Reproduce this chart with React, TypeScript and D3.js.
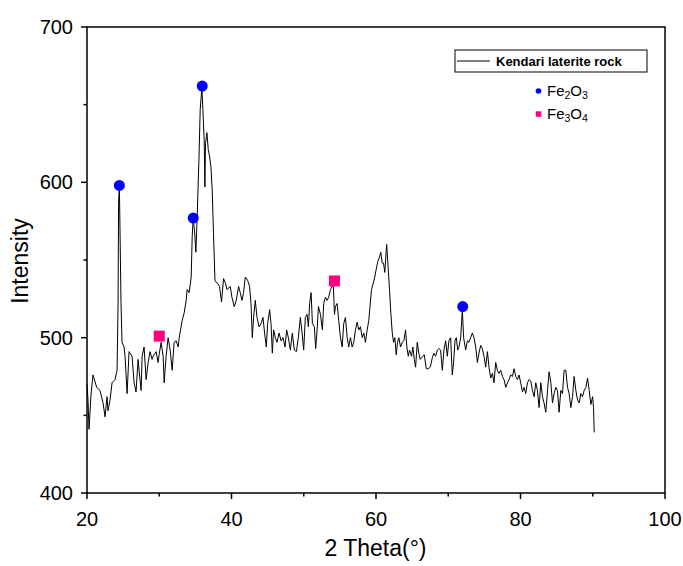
import React from 'react';
import { scaleLinear, line, curveLinear } from 'd3';

//2 theta positions (degrees)
const twoTheta = [
  20.0, 20.14, 20.28, 20.55, 20.83, 21.34, 21.8, 22.22, 22.5, 22.77, 22.91, 23.19, 23.47, 23.88, 24.16, 24.3,
  24.37, 24.48, 24.71, 24.85, 25.13, 25.27, 25.55, 25.82, 26.24, 26.52, 26.79, 27.07, 27.21, 27.49, 27.63, 27.9,
  28.18, 28.46, 28.73, 29.01, 29.15, 29.57, 29.84, 29.98, 30.26, 30.54, 30.68, 30.95, 31.23, 31.51, 31.79, 32.06,
  32.34, 32.62, 32.76, 33.17, 33.45, 33.73, 33.86, 34.14, 34.42, 34.56, 34.7, 34.88, 35.07, 35.25, 35.49, 35.67,
  35.9, 36.04, 36.22, 36.32, 36.4, 36.6, 36.78, 36.96, 37.15, 37.33, 37.51, 37.71, 37.79, 38.07, 38.34, 38.62,
  38.9, 39.17, 39.37, 39.83, 40.06, 40.38, 40.66, 40.98, 41.21, 41.45, 41.67, 41.91, 42.22, 42.5, 42.7, 42.88,
  43.06, 43.29, 43.53, 43.81, 44.08, 44.36, 44.58, 44.82, 45.0, 45.28, 45.47, 45.65, 45.83, 46.07, 46.3, 46.58,
  46.86, 47.13, 47.41, 47.63, 47.87, 48.15, 48.42, 48.7, 48.98, 49.25, 49.53, 49.77, 49.99, 50.22, 50.46, 50.64,
  50.82, 51.02, 51.2, 51.47, 51.65, 51.85, 52.03, 52.31, 52.58, 52.76, 53.0, 53.23, 53.46, 53.69, 53.93, 54.1,
  54.25, 54.39, 54.62, 54.84, 55.08, 55.32, 55.53, 55.77, 56.01, 56.23, 56.46, 56.7, 56.92, 57.16, 57.39, 57.62,
  57.85, 58.09, 58.31, 58.54, 58.78, 59.0, 59.13, 59.38, 59.61, 59.83, 60.03, 60.25, 60.49, 60.67, 60.86, 61.04,
  61.22, 61.41, 61.48, 61.64, 61.87, 62.05, 62.25, 62.43, 62.61, 62.8, 62.98, 63.16, 63.4, 63.63, 63.86, 64.09,
  64.27, 64.47, 64.64, 64.92, 65.1, 65.3, 65.48, 65.71, 65.93, 66.12, 66.49, 66.68, 66.96, 67.24, 67.51, 67.79,
  68.01, 68.25, 68.49, 68.71, 68.94, 69.18, 69.4, 69.64, 69.87, 70.09, 70.33, 70.56, 70.74, 70.93, 71.12, 71.3,
  71.48, 71.72, 71.95, 72.13, 72.41, 72.65, 72.87, 73.1, 73.34, 73.56, 73.8, 74.03, 74.25, 74.49, 74.72, 74.95,
  75.18, 75.42, 75.64, 75.88, 76.11, 76.33, 76.57, 76.8, 77.03, 77.26, 77.5, 77.72, 77.96, 78.19, 78.41, 78.65,
  78.88, 79.11, 79.34, 79.58, 79.8, 80.03, 80.27, 80.49, 80.73, 80.96, 81.19, 81.42, 81.66, 81.88, 82.11, 82.35,
  82.57, 82.81, 83.04, 83.26, 83.5, 83.74, 83.96, 84.2, 84.43, 84.65, 84.89, 85.12, 85.34, 85.58, 85.81, 86.04,
  86.27, 86.51, 86.73, 86.97, 87.2, 87.42, 87.66, 87.89, 88.12, 88.35, 88.58, 88.81, 89.05, 89.28, 89.51, 89.74,
  89.98, 90.11, 90.2,
];

//intensity for each 2 theta position
const intensity = [
  470, 460, 441, 463, 476, 468, 466, 458, 449, 462, 453, 460, 471, 473, 479, 522,
  587, 598, 522, 497, 494, 488, 464, 491, 488, 471, 465, 486, 479, 466, 488, 494,
  473, 484, 491, 486, 488, 491, 484, 489, 497, 488, 471, 488, 500, 492, 479, 497,
  498, 494, 500, 511, 516, 524, 531, 529, 539, 565, 577, 569, 555, 578, 614, 647,
  661, 647, 627, 597, 625, 632, 621, 617, 610, 595, 567, 537, 536, 535, 533, 523,
  538, 535, 531, 533, 526, 520, 524, 533, 529, 524, 529, 539, 537, 533, 522, 500,
  513, 524, 513, 507, 509, 513, 503, 494, 509, 518, 509, 490, 505, 500, 497, 503,
  498, 500, 494, 505, 500, 492, 503, 492, 491, 500, 513, 503, 492, 513, 515, 507,
  522, 529, 509, 507, 493, 505, 520, 515, 505, 522, 526, 524, 526, 531, 533, 533,
  515, 520, 522, 511, 500, 494, 509, 513, 500, 494, 500, 494, 497, 505, 510, 505,
  507, 500, 503, 497, 505, 511, 518, 531, 535, 539, 544, 549, 552, 555, 548, 548,
  542, 556, 560, 548, 531, 516, 503, 497, 500, 489, 497, 500, 494, 497, 498, 505,
  494, 488, 492, 488, 494, 486, 481, 497, 490, 486, 488, 489, 480, 480, 481, 487,
  490, 488, 492, 493, 492, 479, 492, 498, 488, 498, 500, 476, 484, 498, 500, 492,
  494, 500, 518, 500, 492, 498, 497, 500, 503, 500, 494, 484, 490, 495, 493, 488,
  481, 491, 481, 474, 477, 471, 484, 479, 477, 479, 475, 473, 468, 471, 473, 476,
  475, 480, 475, 473, 476, 471, 465, 468, 464, 471, 473, 472, 466, 462, 471, 466,
  455, 471, 462, 458, 452, 466, 478, 471, 458, 464, 468, 466, 452, 466, 464, 479,
  479, 468, 464, 455, 462, 475, 466, 460, 458, 464, 462, 466, 468, 474, 466, 457,
  462, 455, 439,
];

//marker positions for the two phases
const fe2o3Theta = [24.48, 34.7, 35.95, 72.0];
const fe2o3Int = [598, 577, 662, 520];
const fe3o4Theta = [30.0, 54.25];
const fe3o4Int = [501, 536.5];

const xTicks = [20, 40, 60, 80, 100];
const xMinor = [30, 50, 70, 90];
const yTicks = [400, 500, 600, 700];
const yMinor = [450, 550, 650];

const seriesName = 'Kendari laterite rock';

const width = 683;
const height = 566;
const left = 87;
const right = 665;
const top = 27;
const bottom = 493;

const font = '"Liberation Sans", Arial, sans-serif';

const App = () => {
  const xScale = scaleLinear().domain([20, 100]).range([left, right]);
  const yScale = scaleLinear().domain([400, 700]).range([bottom, top]);

  const pts = twoTheta.map((t, i) => [t, intensity[i]] as [number, number]);
  const path = line<[number, number]>()
    .x((d) => xScale(d[0]))
    .y((d) => yScale(d[1]))
    .curve(curveLinear)(pts);

  return (
    <svg
      width={width}
      height={height}
      style={{ position: 'absolute', left: 0, top: 0, background: '#fff' }}
      fontFamily={font}
    >
      {/* the xrd scan */}
      <path d={path || ''} fill="none" stroke="#000" strokeWidth={1} />

      {/* phase markers */}
      {fe2o3Theta.map((t, i) => (
        <circle key={'a' + i} cx={xScale(t)} cy={yScale(fe2o3Int[i])} r={5.5} fill="#0000ff" />
      ))}
      {fe3o4Theta.map((t, i) => (
        <rect
          key={'b' + i}
          x={xScale(t) - 5.5}
          y={yScale(fe3o4Int[i]) - 5.5}
          width={11}
          height={11}
          fill="#ff0080"
        />
      ))}

      {/* frame */}
      <rect x={left} y={top} width={right - left} height={bottom - top} fill="none" stroke="#000" strokeWidth={1.5} />

      {/* x axis ticks */}
      {xTicks.map((t) => (
        <g key={'xt' + t}>
          <line x1={xScale(t)} x2={xScale(t)} y1={bottom} y2={bottom + 6} stroke="#000" strokeWidth={1.5} />
          <text x={xScale(t)} y={bottom + 33} textAnchor="middle" fontSize={20}>
            {t}
          </text>
        </g>
      ))}
      {xMinor.map((t) => (
        <line key={'xm' + t} x1={xScale(t)} x2={xScale(t)} y1={bottom} y2={bottom + 3.5} stroke="#000" strokeWidth={1.5} />
      ))}

      {/* y axis ticks */}
      {yTicks.map((t) => (
        <g key={'yt' + t}>
          <line x1={left - 6} x2={left} y1={yScale(t)} y2={yScale(t)} stroke="#000" strokeWidth={1.5} />
          <text x={left - 14} y={yScale(t) + 7} textAnchor="end" fontSize={20}>
            {t}
          </text>
        </g>
      ))}
      {yMinor.map((t) => (
        <line key={'ym' + t} x1={left - 3.5} x2={left} y1={yScale(t)} y2={yScale(t)} stroke="#000" strokeWidth={1.5} />
      ))}

      {/* axis titles */}
      <text x={(left + right) / 2 - 0.5} y={556} textAnchor="middle" fontSize={23}>
        2 Theta(°)
      </text>
      <text transform={`translate(28,${(top + bottom) / 2 + 1}) rotate(-90)`} textAnchor="middle" fontSize={23}>
        Intensity
      </text>

      {/* legend */}
      <rect x={455} y={50} width={192} height={22} fill="#fff" stroke="#000" strokeWidth={1} />
      <line x1={457} x2={490} y1={61} y2={61} stroke="#000" strokeWidth={1} />
      <text x={496} y={66} fontSize={13} fontWeight="bold">
        {seriesName}
      </text>
      <circle cx={538.5} cy={91} r={2.8} fill="#0000ff" />
      <text x={547} y={96} fontSize={15}>
        Fe<tspan fontSize={10.5} dy={3}>2</tspan>
        <tspan dy={-3}>O</tspan>
        <tspan fontSize={10.5} dy={3}>3</tspan>
      </text>
      <rect x={535.8} y={111.3} width={5.5} height={5.5} fill="#ff0080" />
      <text x={547} y={119} fontSize={15}>
        Fe<tspan fontSize={10.5} dy={3}>3</tspan>
        <tspan dy={-3}>O</tspan>
        <tspan fontSize={10.5} dy={3}>4</tspan>
      </text>
    </svg>
  );
};

export default App;
